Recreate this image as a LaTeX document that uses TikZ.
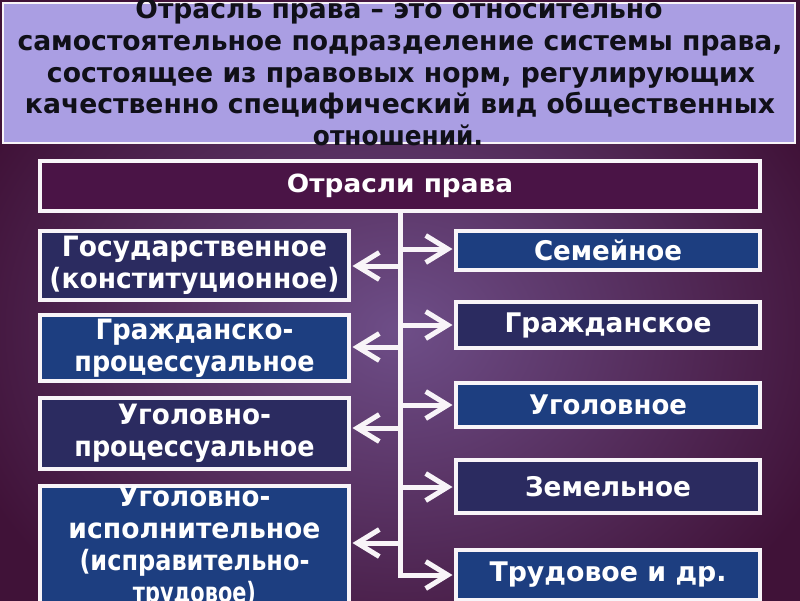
\documentclass[tikz,border=0pt]{standalone}
\usepackage{fontspec}
\setmainfont{DejaVu Sans}
\usepackage{graphicx}
\usetikzlibrary{arrows.meta}
\definecolor{bgin}{HTML}{6E4E88}
\definecolor{bgout}{HTML}{401238}
\definecolor{lav}{HTML}{AA9EE3}
\definecolor{hdrc}{HTML}{4A1446}
\definecolor{navy}{HTML}{2B2B60}
\definecolor{blu}{HTML}{1D3E80}
\definecolor{ink}{HTML}{101018}
\definecolor{edge}{HTML}{F8F4F8}
\newcommand{\fw}[2]{\resizebox{#1pt}{\height}{#2}}
\begin{document}
\begin{tikzpicture}[x=1pt,y=-1pt,
  box/.style={draw=edge,line width=4pt,text=white,align=center,inner sep=0pt,
    font=\bfseries\fontsize{28}{32}\selectfont},
  lbox/.style={box,minimum width=309pt},
  rbox/.style={box,minimum width=304pt,font=\bfseries\fontsize{27}{30}\selectfont},
  deftext/.style={anchor=base,text=ink,inner sep=0pt,font=\bfseries\fontsize{27}{31}\selectfont},
  conn/.style={draw=edge,line width=5pt},
  arr/.style={conn,-{Straight Barb[length=22pt,width=27pt]},shorten >=1.5pt}]
\useasboundingbox (0,0) rectangle (800,600);
\clip (0,0) rectangle (800,600);
\shade[inner color=bgin,outer color=bgout] (-60,-40) rectangle (860,700);

% definition band
\node[draw=edge,line width=2pt,fill=lav,minimum width=792pt,minimum height=140pt,inner sep=0pt] (defbox) at (399,73) {};
\node[deftext] (d1) at (399,18) {\fw{527}{Отрасль права – это относительно}};
\node[deftext] (d2) at (400,50) {\fw{765}{самостоятельное подразделение системы права,}};
\node[deftext] (d3) at (401,82) {\fw{708}{состоящее из правовых норм, регулирующих}};
\node[deftext] (d4) at (400,113) {\fw{750}{качественно специфический вид общественных}};
\node[deftext] (d5) at (398,145) {\fw{170}{отношений.}};

% header
\node[box,fill=hdrc,minimum width=720pt,minimum height=50pt,font=\bfseries\fontsize{25}{28}\selectfont] (hdr) at (400,186) {\fw{226}{Отрасли права}};

% left column
\node[lbox,fill=navy,minimum height=69pt] (L1) at (194.5,265.5)
  {\fw{265}{Государственное}\\\fw{290}{(конституционное)}};
\node[lbox,fill=blu,minimum height=66pt] (L2) at (194.5,348)
  {\fw{198}{Гражданско-}\\\fw{240}{процессуальное}};
\node[lbox,fill=navy,minimum height=71pt] (L3) at (194.5,433)
  {\fw{153}{Уголовно-}\\\fw{240}{процессуальное}};
\node[lbox,fill=blu,minimum height=118pt] (L4) at (194.5,547)
  {\fw{152}{Уголовно-}\\\fw{252}{исполнительное}\\\fw{230}{(исправительно-}\\\fw{123}{трудовое)}};

% right column
\node[rbox,fill=blu,minimum height=39pt] (R1) at (608,250.5) {\fw{148}{Семейное}};
\node[rbox,fill=navy,minimum height=46pt] (R2) at (608,325) {\fw{207}{Гражданское}};
\node[rbox,fill=blu,minimum height=44pt] (R3) at (608,405) {\fw{158}{Уголовное}};
\node[rbox,fill=navy,minimum height=53pt] (R4) at (608,486.5) {\fw{166}{Земельное}};
\node[rbox,fill=blu,minimum height=50pt] (R5) at (608,575) {\fw{237}{Трудовое и др.}};

% branch points on the trunk
\coordinate (bL1) at (400,266);
\coordinate (bL2) at (400,347);
\coordinate (bL3) at (400,428);
\coordinate (bL4) at (400,543);
\coordinate (bR1) at (400,249);
\coordinate (bR2) at (400,325);
\coordinate (bR3) at (400,405);
\coordinate (bR4) at (400,487);

% connectors
\draw[arr] (hdr.south) |- (R5.west);
\draw[arr] (bL1) -- (bL1 -| L1.east);
\draw[arr] (bL2) -- (bL2 -| L2.east);
\draw[arr] (bL3) -- (bL3 -| L3.east);
\draw[arr] (bL4) -- (bL4 -| L4.east);
\draw[arr] (bR1) -- (bR1 -| R1.west);
\draw[arr] (bR2) -- (bR2 -| R2.west);
\draw[arr] (bR3) -- (bR3 -| R3.west);
\draw[arr] (bR4) -- (bR4 -| R4.west);
\end{tikzpicture}
\end{document}
